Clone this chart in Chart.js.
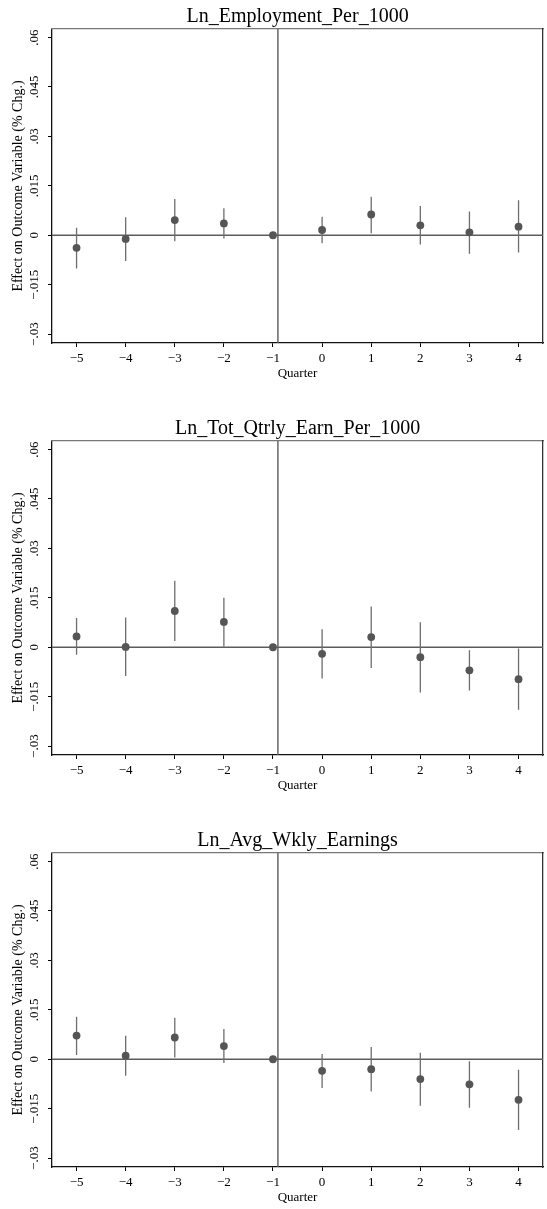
<!DOCTYPE html>
<html>
<head>
<meta charset="utf-8">
<title>Event-study estimates</title>
<script src="https://cdn.jsdelivr.net/npm/chart.js@4/dist/chart.umd.min.js"></script>
<style>
  html, body { margin: 0; padding: 0; background: #ffffff; }
  #page { position: relative; width: 547px; height: 1209px; overflow: hidden; background: #ffffff; }
  .panel { position: absolute; left: 0; width: 547px; height: 385px; }
</style>
</head>
<body>
<div id="page">
  <canvas id="c1" class="panel" width="547" height="385" style="top:0px"></canvas>
  <canvas id="c2" class="panel" width="547" height="385" style="top:412px"></canvas>
  <canvas id="c3" class="panel" width="547" height="385" style="top:824px"></canvas>
</div>
<script>
// Quarters relative to the event and axis ticks
const quarters = [-5, -4, -3, -2, -1, 0, 1, 2, 3, 4];
const quarterLabels = ['−5', '−4', '−3', '−2', '−1', '0', '1', '2', '3', '4'];
const yTicks = [-0.03, -0.015, 0, 0.015, 0.03, 0.045, 0.06];
const yTickLabels = ['−.03', '−.015', '0', '.015', '.03', '.045', '.06'];
const xRange = [-5.5, 4.5];
const yRange = [-0.0327, 0.0626];
const eventLine = -0.9;   // vertical reference line (quarter)
const zeroLine = 0;       // horizontal reference line

const panelTitles = ['Ln_Employment_Per_1000', 'Ln_Tot_Qtrly_Earn_Per_1000', 'Ln_Avg_Wkly_Earnings'];

// Ln_Employment_Per_1000
const empEst = [-0.0038, -0.0011, 0.0046, 0.0036, 0, 0.0016, 0.0063, 0.0030, 0.0009, 0.0026];
const empLo  = [-0.0101, -0.0078, -0.0018, -0.0010, null, -0.0024, 0.0006, -0.0028, -0.0056, -0.0052];
const empHi  = [0.0023, 0.0055, 0.0110, 0.0082, null, 0.0056, 0.0117, 0.0089, 0.0072, 0.0106];

// Ln_Tot_Qtrly_Earn_Per_1000
const earnEst = [0.0033, 0.0001, 0.0110, 0.0077, 0, -0.0020, 0.0031, -0.0030, -0.0070, -0.0097];
const earnLo  = [-0.0023, -0.0087, 0.0019, 0.0002, null, -0.0095, -0.0063, -0.0137, -0.0131, -0.0190];
const earnHi  = [0.0089, 0.0090, 0.0202, 0.0150, null, 0.0055, 0.0124, 0.0076, -0.0009, -0.0004];

// Ln_Avg_Wkly_Earnings
const wklyEst = [0.0072, 0.0011, 0.0066, 0.0040, 0, -0.0035, -0.0030, -0.0060, -0.0076, -0.0123];
const wklyLo  = [0.0013, -0.0050, 0.0005, -0.0011, null, -0.0087, -0.0098, -0.0141, -0.0147, -0.0215];
const wklyHi  = [0.0129, 0.0071, 0.0126, 0.0092, null, 0.0016, 0.0037, 0.0020, -0.0006, -0.0032];

const FONT = "'Liberation Serif', 'Times New Roman', Times, serif";
const INK = '#000000';

function buildPanel(canvasId, title, est, lo, hi) {
  const points = quarters.map((q, i) => ({ x: q, y: est[i] }));
  const ciSegments = quarters.flatMap((q, i) =>
    lo[i] === null ? [] : [{ x: q, y: lo[i] }, { x: q, y: hi[i] }, { x: q, y: null }]);

  return new Chart(document.getElementById(canvasId), {
    type: 'scatter',
    data: {
      datasets: [
        {
          label: 'Estimate',
          data: points,
          order: 0,
          pointRadius: 3.9,
          pointHoverRadius: 3.9,
          pointBackgroundColor: '#555555',
          pointBorderWidth: 0,
          showLine: false
        },
        {
          label: '95% CI',
          data: ciSegments,
          order: 1,
          showLine: true,
          spanGaps: false,
          borderColor: '#6e6e6e',
          borderWidth: 1.3,
          pointRadius: 0,
          tension: 0
        },
        {
          label: 'Zero',
          data: [{ x: xRange[0], y: zeroLine }, { x: xRange[1], y: zeroLine }],
          order: 2,
          showLine: true,
          borderColor: '#5c5c5c',
          borderWidth: 1.4,
          pointRadius: 0
        },
        {
          label: 'Event',
          data: [{ x: eventLine, y: yRange[0] }, { x: eventLine, y: yRange[1] }],
          order: 2,
          showLine: true,
          borderColor: '#5c5c5c',
          borderWidth: 1.4,
          pointRadius: 0
        }
      ]
    },
    options: {
      responsive: false,
      animation: false,
      devicePixelRatio: 1,
      layout: { padding: { left: 0, right: 2, top: 0, bottom: 0 } },
      plugins: {
        legend: { display: false },
        tooltip: { enabled: false },
        title: {
          display: true,
          text: title,
          fullSize: false,
          color: INK,
          font: { family: FONT, size: 20, weight: 'normal' },
          padding: { top: 5, bottom: 0 }
        }
      },
      scales: {
        x: {
          type: 'linear',
          position: 'bottom',
          min: xRange[0],
          max: xRange[1],
          afterBuildTicks: s => { s.ticks = quarters.map(v => ({ value: v })); },
          afterFit: s => { s.height = 42; },
          ticks: {
            autoSkip: false,
            minRotation: 0,
            maxRotation: 0,
            padding: 4,
            color: INK,
            font: { family: FONT, size: 13 },
            callback: v => quarterLabels[quarters.indexOf(v)]
          },
          grid: { display: true, drawOnChartArea: false, drawTicks: true, tickLength: 4, color: INK, lineWidth: 1 },
          border: { display: true, color: '#111111', width: 1.3 },
          title: {
            display: true,
            text: 'Quarter',
            color: INK,
            font: { family: FONT, size: 13 },
            padding: { top: 0, bottom: 4 }
          }
        },
        y: {
          type: 'linear',
          position: 'left',
          min: yRange[0],
          max: yRange[1],
          afterBuildTicks: s => { s.ticks = yTicks.map(v => ({ value: v })); },
          afterFit: s => { s.width = 52; },
          ticks: {
            autoSkip: false,
            minRotation: 90,
            maxRotation: 90,
            crossAlign: 'center',
            padding: -2,
            color: INK,
            font: { family: FONT, size: 13 },
            callback: v => yTickLabels[yTicks.indexOf(v)]
          },
          grid: { display: true, drawOnChartArea: false, drawTicks: true, tickLength: 4, color: INK, lineWidth: 1 },
          border: { display: true, color: '#111111', width: 1.3 },
          title: {
            display: true,
            text: 'Effect on Outcome Variable (% Chg.)',
            color: INK,
            font: { family: FONT, size: 14 },
            padding: { top: 10, bottom: 0 }
          }
        },
        xTop: {
          type: 'linear',
          axis: 'x',
          position: 'top',
          min: xRange[0],
          max: xRange[1],
          afterFit: s => { s.height = 0; },
          ticks: { display: false },
          grid: { display: false, drawTicks: false },
          border: { display: true, color: '#777777', width: 1.3 }
        },
        yRight: {
          type: 'linear',
          axis: 'y',
          position: 'right',
          min: yRange[0],
          max: yRange[1],
          afterFit: s => { s.width = 0; },
          ticks: { display: false },
          grid: { display: false, drawTicks: false },
          border: { display: true, color: '#333333', width: 1.3 }
        }
      }
    }
  });
}

buildPanel('c1', panelTitles[0], empEst, empLo, empHi);
buildPanel('c2', panelTitles[1], earnEst, earnLo, earnHi);
buildPanel('c3', panelTitles[2], wklyEst, wklyLo, wklyHi);
</script>
</body>
</html>
